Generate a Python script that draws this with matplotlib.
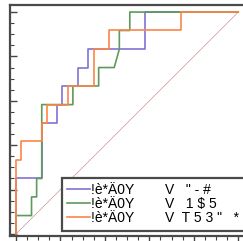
import matplotlib
matplotlib.use("Agg")
import matplotlib.pyplot as plt
from matplotlib.ticker import MultipleLocator

plt.rcParams['font.family'] = ['Liberation Sans', 'DejaVu Sans']

# step curves (false positive rate, true positive rate)
blue_x = [0.0, 0.0, 0.116, 0.116, 0.186, 0.186, 0.209, 0.209, 0.279, 0.279, 0.326, 0.326, 0.581, 0.581, 1.0]
blue_y = [0.0, 0.25, 0.25, 0.5, 0.5, 0.583, 0.583, 0.667, 0.667, 0.75, 0.75, 0.833, 0.833, 1.0, 1.0]

green_x = [0.0, 0.0, 0.07, 0.07, 0.093, 0.093, 0.116, 0.116, 0.256, 0.256, 0.372, 0.372, 0.442, 0.465, 0.465, 0.512, 0.512, 1.0]
green_y = [0.0, 0.083, 0.083, 0.167, 0.167, 0.25, 0.25, 0.583, 0.583, 0.667, 0.667, 0.75, 0.75, 0.833, 0.917, 0.917, 1.0, 1.0]

orange_x = [0.0, 0.0, 0.023, 0.023, 0.116, 0.116, 0.14, 0.14, 0.233, 0.233, 0.349, 0.349, 0.419, 0.419, 0.744, 0.744, 1.0]
orange_y = [0.0, 0.333, 0.333, 0.417, 0.417, 0.5, 0.5, 0.583, 0.583, 0.667, 0.667, 0.833, 0.833, 0.917, 0.917, 1.0, 1.0]

labels = ['!è*Ä0Y        V   " - #',
          '!è*Ä0Y        V   1 $ 5',
          '!è*Ä0Y        V  T 5 3 "   *']
colors = ['#7f72d4', '#5e9a5c', '#fb8648']

fig = plt.figure(figsize=(2.43, 2.41), dpi=100)
ax = fig.add_axes([0.041, 0.019, 0.967, 0.96])

ax.plot([0, 1], [0, 1], color='#cfa9a4', linewidth=0.6)
ax.plot(blue_x, blue_y, color=colors[0], linewidth=1.2, label=labels[0])
ax.plot(green_x, green_y, color=colors[1], linewidth=1.2, label=labels[1])
ax.plot(orange_x, orange_y, color=colors[2], linewidth=1.2, label=labels[2])

ax.set_xlim(-0.027, 1.03)
ax.set_ylim(-0.011, 1.0315)

for s in ax.spines.values():
    s.set_color('#4a4a4a')
    s.set_linewidth(1.6)

ax.xaxis.set_major_locator(MultipleLocator(0.2))
ax.xaxis.set_minor_locator(MultipleLocator(0.05))
ax.yaxis.set_major_locator(MultipleLocator(0.2))
ax.yaxis.set_minor_locator(MultipleLocator(0.05))
ax.tick_params(axis='y', which='major', direction='in', length=5, width=1, color='#444444')
ax.tick_params(axis='y', which='minor', direction='in', length=3, width=0.8, color='#444444')
ax.tick_params(axis='x', which='major', direction='out', length=5, width=1, color='#444444')
ax.tick_params(axis='x', which='minor', direction='out', length=3, width=0.8, color='#444444')
ax.tick_params(labelleft=False, labelbottom=False)

leg = ax.legend(loc='lower left', bbox_to_anchor=(0.221, 0.024), fontsize=10,
                handlelength=1.6, handletextpad=0.1, labelspacing=0.0,
                borderpad=0.4, borderaxespad=0, fancybox=False, framealpha=1)
leg.get_frame().set_edgecolor('#4a4a4a')
leg.get_frame().set_linewidth(1.6)

fig.savefig('out.png', dpi=100)
